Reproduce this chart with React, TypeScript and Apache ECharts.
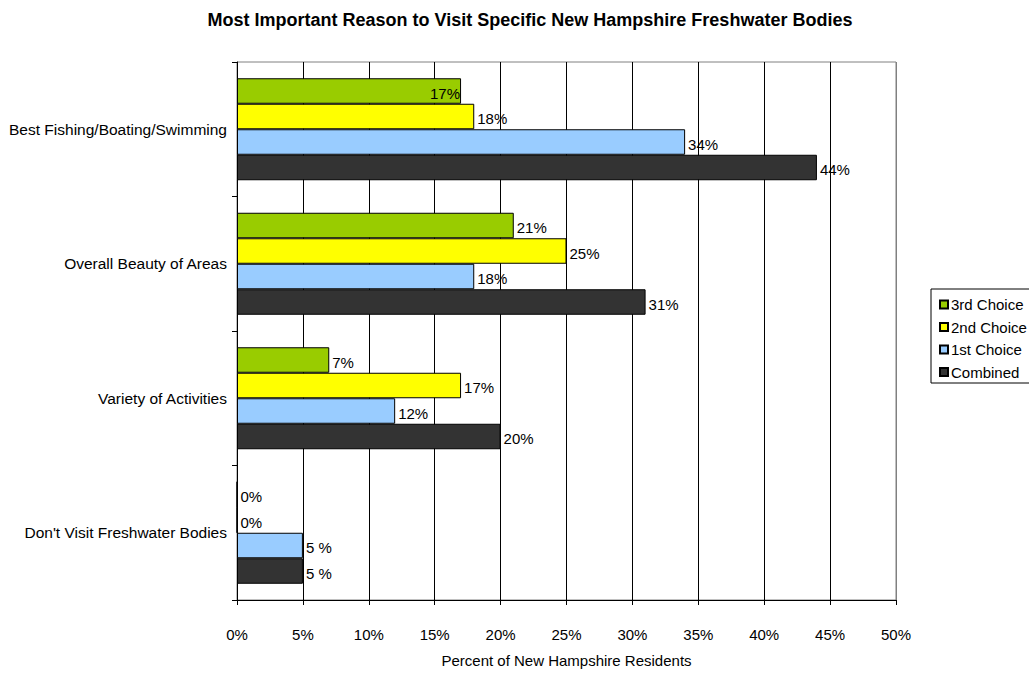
import React, { useEffect, useRef } from "react";
import * as echarts from "echarts";

const categories = [
  "Best Fishing/Boating/Swimming",
  "Overall Beauty of Areas",
  "Variety of Activities",
  "Don't Visit Freshwater Bodies",
];
const seriesNames = ["3rd Choice", "2nd Choice", "1st Choice", "Combined"];
const thirdChoice = [17, 21, 7, 0];
const secondChoice = [18, 25, 17, 0];
const firstChoice = [34, 18, 12, 5];
const combined = [44, 31, 20, 5];
const colors = ["#99cc00", "#ffff00", "#99ccff", "#333333"];
const xTicks = [0, 5, 10, 15, 20, 25, 30, 35, 40, 45, 50];

export default function App() {
  const ref = useRef<HTMLDivElement>(null);
  useEffect(() => {
    const chart = echarts.init(ref.current!, null, { renderer: "svg" });
    const font = "Liberation Sans, Arial, sans-serif";
    const allData = [thirdChoice, secondChoice, firstChoice, combined];
    const series = seriesNames.map((name, si) => ({
      name,
      type: "bar",
      barWidth: 25.5,
      barGap: "0%",
      data: allData[si].map((v, ci) => {
        const item: any = { value: v };
        if (si === 0 && ci === 0) {
          item.label = { position: "insideRight", distance: 1 };
        }
        if ((si === 2 || si === 3) && ci === 3) {
          item.label = { formatter: "5 %" };
        }
        return item;
      }),
      itemStyle: { color: colors[si], borderColor: "#000", borderWidth: 1 },
      label: {
        show: true,
        position: "right",
        distance: 3,
        offset: [0, 2],
        formatter: "{c}%",
        color: "#000",
        fontSize: 15,
        fontFamily: font,
      },
    }));
    chart.setOption({
      animation: false,
      backgroundColor: "#fff",
      title: {
        text: "Most Important Reason to Visit Specific New Hampshire Freshwater Bodies",
        left: 525,
        textAlign: "center",
        top: 6,
        textStyle: { fontSize: 18, fontWeight: "bold", fontFamily: font, color: "#000" },
      },
      grid: {
        left: 237,
        right: 133,
        top: 62,
        bottom: 64,
        show: true,
        borderColor: "#808080",
        borderWidth: 1,
        backgroundColor: "transparent",
      },
      legend: {
        orient: "vertical",
        left: 934,
        top: 292,
        itemWidth: 8,
        itemHeight: 8,
        itemGap: 7.5,
        icon: "rect",
        data: seriesNames,
        textStyle: { fontSize: 15, fontFamily: font, color: "#000", padding: [0, 0, 0, -2] },
      },
      xAxis: {
        type: "value",
        min: xTicks[0],
        max: xTicks[xTicks.length - 1],
        interval: 5,
        name: "Percent of New Hampshire Residents",
        nameLocation: "middle",
        nameGap: 53,
        nameTextStyle: { fontSize: 15, fontFamily: font, color: "#000" },
        axisLine: { show: true, lineStyle: { color: "#000", width: 1 } },
        axisTick: { show: true, length: 5, lineStyle: { color: "#000" } },
        axisLabel: {
          formatter: "{value}%",
          fontSize: 15,
          fontFamily: font,
          color: "#000",
          margin: 27,
        },
        splitLine: {
          show: true,
          lineStyle: {
            color: ["#000", "#000", "#000", "#000", "#000", "#000", "#000", "#000", "#000", "#000", "#808080"],
            width: 1,
          },
        },
      },
      yAxis: {
        type: "category",
        inverse: true,
        data: categories,
        axisLine: { show: true, lineStyle: { color: "#000", width: 1 } },
        axisTick: { show: true, length: 5, lineStyle: { color: "#000" } },
        axisLabel: { fontSize: 15.5, fontFamily: font, color: "#000", margin: 10 },
        splitLine: { show: false },
      },
      graphic: [
        {
          type: "rect",
          shape: { x: 931, y: 289, width: 120, height: 94 },
          style: { fill: "none", stroke: "#000", lineWidth: 1 },
          z: 100,
        },
      ],
      series,
    });
    return () => chart.dispose();
  }, []);
  return <div ref={ref} style={{ width: 1029, height: 673, position: "absolute", left: 0, top: 0 }} />;
}
